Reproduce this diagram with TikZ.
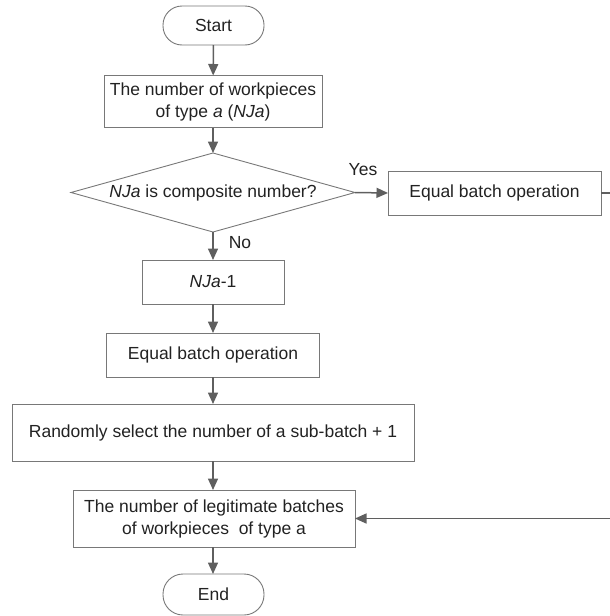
\documentclass[tikz,border=0pt]{standalone}
\usepackage{fontspec}
\setmainfont{Liberation Sans}
\usetikzlibrary{arrows.meta,shapes.geometric}
\definecolor{edgegray}{RGB}{120,120,120}
\definecolor{linkgray}{RGB}{95,95,95}
\definecolor{inkgray}{RGB}{34,34,34}
\begin{document}
\begin{tikzpicture}[x=1pt,y=-1pt,
  every node/.style={font=\fontsize{17.5}{22}\selectfont, text=inkgray, inner sep=0pt, outer sep=0pt},
  procbox/.style={draw=edgegray, line width=0.9pt, rectangle, align=center},
  terminal/.style={draw=edgegray, line width=0.9pt, rectangle, rounded corners=19pt,
    minimum width=101pt},
  decision/.style={draw=edgegray, line width=0.9pt, diamond, aspect=3.6,
    minimum width=284pt, minimum height=79pt},
  flow/.style={draw=linkgray, line width=1.5pt, -{Triangle[length=11.5pt,width=10pt]}},
  tag/.style={font=\fontsize{17.5}{22}\selectfont}
]
\useasboundingbox (0,0) rectangle (610,616);

% process chain
\node[terminal, minimum height=39pt] (start) at (213.5,25.5) {Start};
\node[procbox, minimum width=218pt, minimum height=52pt] (count) at (213,101.5)
  {The number of workpieces\\of type \textit{a} (\textit{NJa})};
\node[decision] (test) at (213,192.5) {\textit{NJa} is composite number?};
\node[procbox, minimum width=213pt, minimum height=44pt] (eqyes) at (494.5,193)
  {Equal batch operation};
\node[procbox, minimum width=142pt, minimum height=44pt] (minus) at (213,282)
  {\textit{NJa}-1};
\node[procbox, minimum width=213pt, minimum height=44pt] (eqno) at (213,355)
  {Equal batch operation};
\node[procbox, minimum width=402pt, minimum height=57pt] (pick) at (213,432.5)
  {Randomly select the number of a sub-batch + 1};
\node[procbox, minimum width=282pt, minimum height=57pt] (legal) at (214,518.5)
  {The number of legitimate batches\\of workpieces\ \ of type a};
\node[terminal, minimum height=41pt, rounded corners=20pt] (finish) at (213.5,594.5) {End};

% branch labels
\node[tag] (yes) at (363,170) {Yes};
\node[tag] (no) at (240,243) {No};

% connectors
\draw[flow] (start) -- (count);
\draw[flow] (count) -- (test);
\draw[flow] (test.east) -- (eqyes.west);
\draw[flow] (test.south) -- (minus.north);
\draw[flow] (minus) -- (eqno);
\draw[flow] (eqno) -- (pick);
\draw[flow] (pick.south -| legal.north) ++(-1,0) coordinate (pk) -- (pk |- legal.north);
\draw[flow] (legal.south -| finish.north) ++(-0.5,0) coordinate (lg) -- (lg |- finish.north);
\coordinate (bend) at (613,193);
\draw[flow] (eqyes.east) -- (bend) |- (legal.east);
\end{tikzpicture}
\end{document}
